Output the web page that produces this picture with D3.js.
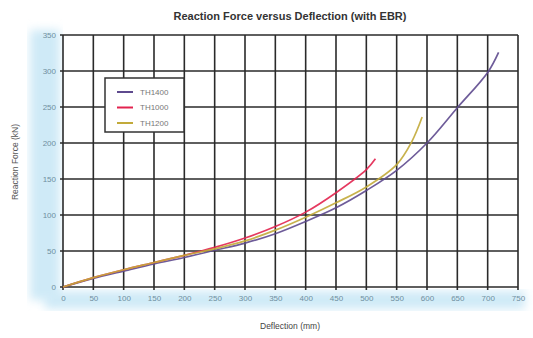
<!DOCTYPE html>
<html>
<head>
<meta charset="utf-8">
<script src="https://cdn.jsdelivr.net/npm/d3@7"></script>
<style>
  body { margin: 0; background: #fff; }
  text { font-family: "Liberation Sans", Arial, sans-serif; }
</style>
</head>
<body>
<div id="chart"></div>
<script>
// deflection (mm) and reaction force (kN)
var defl1400 = [0, 50, 100, 150, 200, 250, 300, 350, 400, 450, 500, 550, 600, 650, 700, 718];
var force1400 = [0, 12, 22, 32, 41, 51, 61, 74, 91, 110, 134, 162, 200, 249, 298, 326];
var defl1000 = [0, 50, 100, 150, 200, 250, 300, 350, 400, 450, 500, 515];
var force1000 = [0, 13, 24, 34, 44, 55, 68, 84, 104, 131, 163, 178];
var defl1200 = [0, 50, 100, 150, 200, 250, 300, 350, 400, 450, 500, 550, 575, 592];
var force1200 = [0, 13, 24, 34, 44, 53, 64, 79, 97, 117, 139, 170, 202, 236];

var seriesNames = ["TH1400", "TH1000", "TH1200"];
var seriesColors = ["#5e4a8e", "#e2234f", "#c2aa3a"];
var xTicks = d3.range(0, 751, 50);
var yTicks = d3.range(0, 351, 50);

function init() {
    var w = 533;
    var h = 338;
    var margin = { top: 35, right: 15, bottom: 51, left: 63 };
    var innerWidth = w - margin.left - margin.right;
    var innerHeight = h - margin.top - margin.bottom;

    var series = [
        { name: seriesNames[0], x: defl1400, y: force1400 },
        { name: seriesNames[1], x: defl1000, y: force1000 },
        { name: seriesNames[2], x: defl1200, y: force1200 }
    ];

    var xScale = d3.scaleLinear().domain([0, 750]).range([0, innerWidth]);
    var yScale = d3.scaleLinear().domain([0, 350]).range([innerHeight, 0]);

    var svg = d3.select("#chart")
        .append("svg")
        .attr("width", w)
        .attr("height", h);

    // soft blue haze behind the tick labels, like the scanned original
    var defs = svg.append("defs");
    defs.append("filter").attr("id", "blur")
        .append("feGaussianBlur").attr("stdDeviation", 5);
    svg.append("rect")
        .attr("x", 30).attr("y", 30).attr("width", 30).attr("height", 270)
        .attr("fill", "#cfeaf7").attr("filter", "url(#blur)");
    svg.append("rect")
        .attr("x", 45).attr("y", 291).attr("width", 480).attr("height", 18)
        .attr("fill", "#cfeaf7").attr("filter", "url(#blur)");

    var g = svg.append("g")
        .attr("transform", "translate(" + margin.left + "," + margin.top + ")");

    g.append("rect")
        .attr("width", innerWidth)
        .attr("height", innerHeight)
        .attr("fill", "#fff");

    // grid
    g.append("g")
        .selectAll("line")
        .data(xTicks)
        .enter()
        .append("line")
        .attr("x1", function(d) { return xScale(d); })
        .attr("x2", function(d) { return xScale(d); })
        .attr("y1", 0)
        .attr("y2", innerHeight + 3)
        .attr("stroke", "#2a2a2a")
        .attr("stroke-width", 1.6);

    g.append("g")
        .selectAll("line")
        .data(yTicks)
        .enter()
        .append("line")
        .attr("x1", -3)
        .attr("x2", innerWidth)
        .attr("y1", function(d) { return yScale(d); })
        .attr("y2", function(d) { return yScale(d); })
        .attr("stroke", "#2a2a2a")
        .attr("stroke-width", 1.6);

    // axes labels
    var xAxis = d3.axisBottom(xScale).tickValues(xTicks).tickSize(0).tickPadding(8);
    var yAxis = d3.axisLeft(yScale).tickValues(yTicks).tickSize(0).tickPadding(7);

    var xg = g.append("g")
        .attr("transform", "translate(0," + innerHeight + ")")
        .call(xAxis);
    var yg = g.append("g").call(yAxis);
    [xg, yg].forEach(function(a) {
        a.select(".domain").remove();
        a.selectAll("text")
            .attr("fill", "#6f8f9f")
            .style("font-size", "8px");
    });

    // curves
    var line = d3.line()
        .x(function(d) { return xScale(d[0]); })
        .y(function(d) { return yScale(d[1]); })
        .curve(d3.curveCatmullRom);

    g.append("g")
        .selectAll("path")
        .data(series)
        .enter()
        .append("path")
        .attr("d", function(s) {
            return line(s.x.map(function(v, i) { return [v, s.y[i]]; }));
        })
        .attr("fill", "none")
        .attr("stroke", function(d, i) { return seriesColors[i]; })
        .attr("stroke-width", 1.7)
        .attr("opacity", 0.9);

    // legend
    var legend = svg.append("g").attr("transform", "translate(105,78)");
    legend.append("rect")
        .attr("width", 79)
        .attr("height", 54)
        .attr("fill", "#fff")
        .attr("stroke", "#333")
        .attr("stroke-width", 1.5);
    var items = legend.selectAll("g.item")
        .data(seriesNames)
        .enter()
        .append("g")
        .attr("class", "item")
        .attr("transform", function(d, i) { return "translate(0," + (14 + i * 15.5) + ")"; });
    items.append("line")
        .attr("x1", 12).attr("x2", 28)
        .attr("stroke", function(d, i) { return seriesColors[i]; })
        .attr("stroke-width", 2);
    items.append("text")
        .attr("x", 35)
        .attr("dy", "0.35em")
        .attr("fill", "#777")
        .style("font-size", "8px")
        .text(function(d) { return d; });

    // titles
    svg.append("text")
        .attr("x", 290)
        .attr("y", 20)
        .attr("text-anchor", "middle")
        .attr("font-weight", "bold")
        .attr("fill", "#333")
        .style("font-size", "11px")
        .text("Reaction Force versus Deflection (with EBR)");

    svg.append("text")
        .attr("x", 290)
        .attr("y", 329)
        .attr("text-anchor", "middle")
        .attr("fill", "#444")
        .style("font-size", "8.5px")
        .text("Deflection (mm)");

    svg.append("text")
        .attr("transform", "translate(18,162) rotate(-90)")
        .attr("text-anchor", "middle")
        .attr("fill", "#555")
        .style("font-size", "8.5px")
        .text("Reaction Force (kN)");
}

window.onload = init;
</script>
</body>
</html>
